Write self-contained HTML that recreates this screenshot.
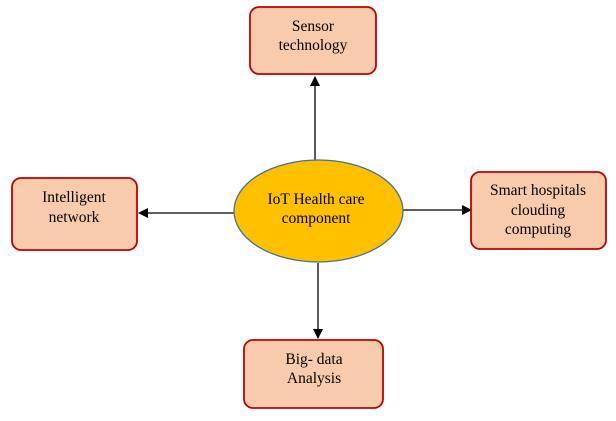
<!DOCTYPE html>
<html><head><meta charset="utf-8"><style>
body{margin:0;background:#fff;width:616px;height:416px;overflow:hidden}
text{font-family:"Liberation Serif",serif;font-size:15.5px;fill:#000}
.b{fill:#F8CBAD;stroke:#C00000;stroke-width:1.8}
</style></head><body>
<svg width="616" height="416" viewBox="0 0 616 416">
<defs><marker id="a" markerWidth="10" markerHeight="10" refX="9" refY="5" orient="auto" markerUnits="userSpaceOnUse"><path d="M0,0 L10,5 L0,10z" fill="#000"/></marker></defs>
<line x1="315" y1="161" x2="315" y2="77" stroke="#000" stroke-width="1.3" marker-end="url(#a)"/>
<line x1="234" y1="213" x2="139" y2="213" stroke="#000" stroke-width="1.3" marker-end="url(#a)"/>
<line x1="403" y1="210" x2="471" y2="210" stroke="#000" stroke-width="1.3" marker-end="url(#a)"/>
<line x1="318" y1="263" x2="318" y2="338" stroke="#000" stroke-width="1.3" marker-end="url(#a)"/>
<rect class="b" x="250" y="7" width="126" height="67" rx="9"/>
<rect class="b" x="12" y="178" width="125" height="72" rx="9"/>
<rect class="b" x="471" y="172" width="135" height="77" rx="9"/>
<rect class="b" x="244" y="340" width="139" height="68" rx="9"/>
<ellipse cx="318.5" cy="211" rx="84.5" ry="51" fill="#FFC000" stroke="#41719C" stroke-width="1.3"/>
<g text-anchor="middle">
<text x="313" y="31">Sensor</text><text x="313" y="50">technology</text>
<text x="74" y="202">Intelligent</text><text x="74" y="222">network</text>
<text x="538" y="195">Smart hospitals</text><text x="538" y="215">clouding</text><text x="538" y="234">computing</text>
<text x="314" y="364">Big- data</text><text x="314" y="383">Analysis</text>
<text x="316" y="204">IoT Health care</text><text x="316" y="223">component</text>
</g>
</svg>
</body></html>
